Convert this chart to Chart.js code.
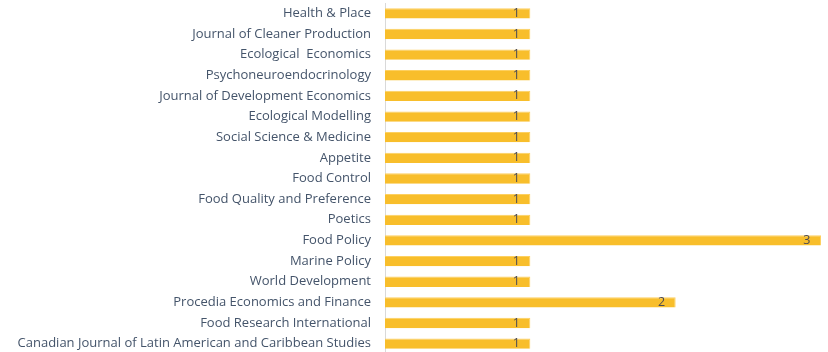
<!DOCTYPE html>
<html>
<head>
<meta charset="utf-8">
<script src="https://cdn.jsdelivr.net/npm/chart.js@4"></script>
<style>
html,body{margin:0;padding:0;background:#fff;overflow:hidden;}
#wrap{position:relative;width:828px;height:354px;}
</style>
</head>
<body>
<div id="wrap"><canvas id="c"></canvas></div>
<script>
const categories = [
  "Health & Place",
  "Journal of Cleaner Production",
  "Ecological  Economics",
  "Psychoneuroendocrinology",
  "Journal of Development Economics",
  "Ecological Modelling",
  "Social Science & Medicine",
  "Appetite",
  "Food Control",
  "Food Quality and Preference",
  "Poetics",
  "Food Policy",
  "Marine Policy",
  "World Development",
  "Procedia Economics and Finance",
  "Food Research International",
  "Canadian Journal of Latin American and Caribbean Studies"
];
const counts = [1,1,1,1,1,1,1,1,1,1,1,3,1,1,2,1,1];

const valueLabels = {
  id: 'valueLabels',
  afterDatasetsDraw(chart) {
    const ctx = chart.ctx;
    const meta = chart.getDatasetMeta(0);
    ctx.save();
    ctx.font = '12.5px "Open Sans", sans-serif';
    ctx.fillStyle = '#4A4A55';
    ctx.textAlign = 'right';
    ctx.textBaseline = 'middle';
    meta.data.forEach((bar, i) => {
      ctx.fillText(String(counts[i]), bar.x - 10.5, bar.y);
    });
    ctx.restore();
  }
};

new Chart(document.getElementById('c'), {
  type: 'bar',
  data: {
    labels: categories,
    datasets: [{
      data: counts,
      backgroundColor: '#F8BE2B',
      borderColor: '#FDD060',
      borderWidth: {top: 1, bottom: 0, left: 0, right: 1},
      barPercentage: 0.5,
      categoryPercentage: 1.0
    }]
  },
  options: {
    indexAxis: 'y',
    responsive: true,
    maintainAspectRatio: false,
    animation: false,
    layout: {padding: {top: 3, right: 7, bottom: 0, left: 0}},
    plugins: {legend: {display: false}, tooltip: {enabled: false}},
    scales: {
      x: {
        display: false,
        min: 0,
        max: 3
      },
      y: {
        grid: {display: false, drawTicks: false},
        border: {display: true, color: '#D9D9D9', width: 1},
        ticks: {
          color: '#44546A',
          padding: 14,
          autoSkip: false,
          font: {family: '"Open Sans", sans-serif', size: 13}
        },
        afterFit(scale) {
          scale.width = 385;
          scale.paddingTop = 0;
          scale.paddingBottom = 0;
        }
      }
    }
  },
  plugins: [valueLabels]
});
</script>
</body>
</html>
